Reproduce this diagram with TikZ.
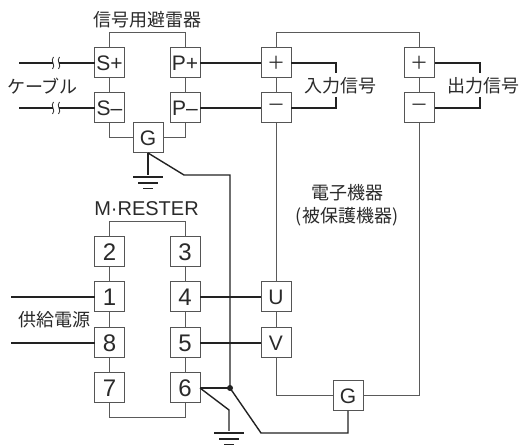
\documentclass[tikz,border=0pt]{standalone}
\usepackage{fontspec}
\setmainfont{Liberation Sans}
\newfontfamily\cjk{Noto Sans CJK JP}
\usetikzlibrary{calc}
\definecolor{thinc}{HTML}{5A5A5A}
\definecolor{thickc}{HTML}{222222}
\definecolor{boxc}{HTML}{555555}
\definecolor{textc}{HTML}{2A2A2A}
\tikzset{
  term/.style={draw=boxc,line width=1pt,fill=white,minimum size=30pt,inner sep=0pt,outer sep=0pt,text=textc,font=\fontsize{21}{21}\selectfont},
  numterm/.style={term,font=\fontsize{24}{24}\selectfont},
  symterm/.style={term,font=\cjk\fontsize{18}{18}\selectfont},
  thinw/.style={draw=thinc,line width=1pt},
  thickw/.style={draw=thickc,line width=1.4pt},
  lab/.style={text=textc,inner sep=0pt,font=\cjk\fontsize{18}{18}\selectfont},
  latlab/.style={text=textc,inner sep=0pt,font=\fontsize{20}{20}\selectfont},
  gndbar/.style={draw=thickc,line width=1.4pt},
}
\newcommand{\gsym}[1]{%
  \draw[gndbar] ($(#1)+(-15,2)$) -- ($(#1)+(15,2)$);
  \draw[gndbar] ($(#1)+(-10,8)$) -- ($(#1)+(10,8)$);
  \draw[gndbar] ($(#1)+(-5,13.5)$) -- ($(#1)+(5,13.5)$);
}
\newcommand{\wavy}[1]{%
  \draw[thickc,line width=0.8pt] ($(#1)+(0.5,-6)$) .. controls ($(#1)+(-3.5,-2.5)$) and ($(#1)+(3.5,2.5)$) .. ($(#1)+(-0.5,6)$);
}
\begin{document}
\begin{tikzpicture}[x=1pt,y=-1pt]
\useasboundingbox (0,0) rectangle (520,446);
% coordinates
\coordinate (topA) at (109.5,33);
\coordinate (topB) at (185,33);
\coordinate (topC) at (276,33);
\coordinate (topD) at (419.5,33);
\coordinate (topE) at (109.5,222);
\coordinate (topF) at (185,222);
\coordinate (botF) at (109.5,418);
\coordinate (botG) at (185,418);
\coordinate (cabA) at (19,63);
\coordinate (cabB) at (19,108);
\coordinate (wA) at (53,63);
\coordinate (wB) at (59,63);
\coordinate (wC) at (53,108);
\coordinate (wD) at (59,108);
\coordinate (powA) at (11,297);
\coordinate (powB) at (11,343);
\coordinate (brk1) at (184,175);
\coordinate (brk2) at (230,175);
\coordinate (gndU) at (148,175);
\coordinate (j) at (230,388);
\coordinate (brk3) at (261,433);
\coordinate (brk4) at (348,433);
\coordinate (brk5) at (229,410);
\coordinate (gndL) at (229,431);
\coordinate (inA) at (336,63);
\coordinate (inA2) at (336,73);
\coordinate (inB) at (336,108);
\coordinate (inB2) at (336,97);
\coordinate (outA) at (480,63);
\coordinate (outA2) at (480,73);
\coordinate (outB) at (480,108);
\coordinate (outB2) at (480,97);
% terminals
\node[term] (Sp) at (109.5,63) {S+};
\node[term] (Sm) at (109.5,108) {S--};
\node[term] (Pp) at (185,63) {P+};
\node[term] (Pm) at (185,108) {P--};
\node[term] (G1) at (148,138) {G};
\node[symterm] (Ap) at (276,63) {＋};
\node[symterm] (Am) at (276,108) {－};
\node[symterm] (Bp) at (419.5,63) {＋};
\node[symterm] (Bm) at (419.5,108) {－};
\node[numterm] (n2) at (109.5,252) {2};
\node[numterm] (n1) at (109.5,297) {1};
\node[numterm] (n8) at (109.5,343) {8};
\node[numterm] (n7) at (109.5,388) {7};
\node[numterm] (n3) at (185,252) {3};
\node[numterm] (n4) at (185,297) {4};
\node[numterm] (n5) at (185,343) {5};
\node[numterm] (n6) at (185,388) {6};
\node[term] (U) at (276,297) {U};
\node[term] (V) at (276,343) {V};
\node[term] (G2) at (348,396) {G};
% thin internal wiring
\draw[thinw] (Sp.north) -- (topA) -- (topB) -- (Pp.north);
\draw[thinw] (Sp) -- (Sm);
\draw[thinw] (Pp) -- (Pm);
\draw[thinw] (Sm.south) |- (G1.west);
\draw[thinw] (Pm.south) |- (G1.east);
\draw[thinw] (Ap.north) -- (topC) -- (topD) -- (Bp.north);
\draw[thinw] (Ap) -- (Am);
\draw[thinw] (Bp) -- (Bm);
\draw[thinw] (Am.south) -- (U.north);
\draw[thinw] (U) -- (V);
\draw[thinw] (V.south) |- (G2.west);
\draw[thinw] (Bm.south) |- (G2.east);
\draw[thinw] (n2.north) -- (topE) -- (topF) -- (n3.north);
\draw[thinw] (n2) -- (n1);
\draw[thinw] (n1) -- (n8);
\draw[thinw] (n8) -- (n7);
\draw[thinw] (n3) -- (n4);
\draw[thinw] (n4) -- (n5);
\draw[thinw] (n5) -- (n6);
\draw[thinw] (n7.south) -- (botF) -- (botG) -- (n6.south);
% thick wiring
\draw[thickw] (cabA) -- (wA);
\draw[thickw] (wB) -- (Sp.west);
\draw[thickw] (cabB) -- (wC);
\draw[thickw] (wD) -- (Sm.west);
\wavy{wA}\wavy{wB}\wavy{wC}\wavy{wD}
\draw[thickw] (Pp.east) -- (Ap.west);
\draw[thickw] (Pm.east) -- (Am.west);
\draw[thickw] (powA) -- (n1.west);
\draw[thickw] (powB) -- (n8.west);
\draw[thickw] (n4.east) -- (U.west);
\draw[thickw] (n5.east) -- (V.west);
\draw[thickw] (G1.south) -- (gndU);
\draw[thickw] (G1.south) -- (brk1) -- (brk2) -- (j);
\draw[thickw] (n6.east) -- (j);
\draw[thickw] (j) -- (brk3) -- (brk4) -- (G2.south);
\draw[thickw] (n6.east) -- (brk5) -- (gndL);
\fill[thickc] (j) circle (3pt);
\gsym{gndU}
\gsym{gndL}
\draw[thickw] (Ap.east) -- (inA) -- (inA2);
\draw[thickw] (Am.east) -- (inB) -- (inB2);
\draw[thickw] (Bp.east) -- (outA) -- (outA2);
\draw[thickw] (Bm.east) -- (outB) -- (outB2);
% labels
\node[lab] (t1) at (147,20) {信号用避雷器};
\node[lab] (t2) at (42.5,86) {ケーブル};
\node[lab] (t3) at (340.5,86) {入力信号};
\node[lab] (t4) at (483.5,86) {出力信号};
\node[lab] (t5) at (347.5,193) {電子機器};
\node[lab] (t6) at (347,217) {(被保護機器)};
\node[lab] (t7) at (54.5,320) {供給電源};
\node[latlab] (t8) at (146.5,209) {M·RESTER};
\end{tikzpicture}
\end{document}
